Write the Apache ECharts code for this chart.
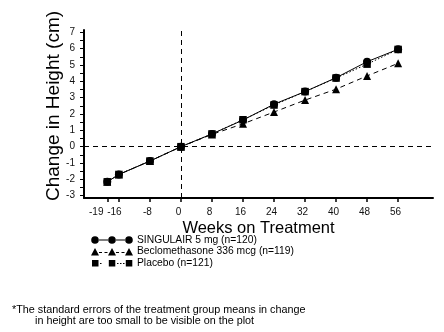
<!DOCTYPE html>
<html>
<head>
<meta charset="utf-8">
<script src="https://cdn.jsdelivr.net/npm/echarts@6/dist/echarts.min.js"></script>
<style>html,body{margin:0;padding:0;background:#fff}#c{width:444px;height:332px}</style>
</head>
<body>
<div id="c"></div>
<script>
const weeks = [-19, -16, -8, 0, 8, 16, 24, 32, 40, 48, 56];
const singulair = [-2.15, -1.7, -0.88, 0, 0.78, 1.63, 2.6, 3.37, 4.22, 5.2, 5.96];
const beclomethasone = [-2.15, -1.7, -0.88, 0, 0.75, 1.4, 2.12, 2.85, 3.52, 4.33, 5.1];
const placebo = [-2.15, -1.7, -0.88, 0, 0.78, 1.65, 2.55, 3.37, 4.2, 5.05, 5.95];
const xTicks = [-19, -16, -8, 0, 8, 16, 24, 32, 40, 48, 56];
const yTicks = [-3, -2, -1, 0, 1, 2, 3, 4, 5, 6, 7];
const yMinorTicks = [-3, -2.5, -2, -1.5, -1, -0.5, 0, 0.5, 1, 1.5, 2, 2.5, 3, 3.5, 4, 4.5, 5, 5.5, 6, 6.5, 7];
const seriesNames = ['SINGULAIR 5 mg (n=120)', 'Beclomethasone 336 mcg (n=119)', 'Placebo (n=121)'];
const footnote = ['*The standard errors of the treatment group means in change', 'in height are too small to be visible on the plot'];

const FONT = "'Liberation Sans', Arial, sans-serif";

function circ(cx, cy, r) {
  return 'M' + (cx - r) + ',' + cy + ' A' + r + ',' + r + ' 0 1,0 ' + (cx + r) + ',' + cy + ' A' + r + ',' + r + ' 0 1,0 ' + (cx - r) + ',' + cy + ' Z ';
}
function rect(x, y, w, h) {
  return 'M' + x + ',' + y + ' L' + (x + w) + ',' + y + ' L' + (x + w) + ',' + (y + h) + ' L' + x + ',' + (y + h) + ' Z ';
}
function tri(cx) {
  return 'M' + (cx - 4) + ',8 L' + cx + ',0.5 L' + (cx + 4) + ',8 Z ';
}
const bounds = 'M0,0 L0,0 Z M42,8 L42,8 Z ';
const iconCircle = 'path://' + bounds + circ(4, 4, 3.8) + circ(21, 4, 3.8) + circ(38, 4, 3.8) + rect(7.5, 3.6, 10, 0.9) + rect(24.5, 3.6, 10, 0.9);
const iconTri = 'path://' + bounds + tri(4) + tri(21) + tri(38) + rect(8, 4.6, 3, 0.9) + rect(13.5, 4.6, 3, 0.9) + rect(25, 4.6, 3, 0.9) + rect(30.5, 4.6, 3, 0.9);
const iconSq = 'path://' + bounds + rect(1, 1, 6.5, 6.5) + rect(17.8, 1, 6.5, 6.5) + rect(34.8, 1, 6.5, 6.5) + rect(9, 4, 1.5, 0.9) + rect(26, 4, 1.5, 0.9) + rect(29, 4, 1.5, 0.9) + rect(32, 4, 1.5, 0.9);

const chart = echarts.init(document.getElementById('c'), null, {renderer: 'canvas'});
chart.setOption({
  animation: false,
  backgroundColor: '#fff',
  grid: {left: 84, right: 11, top: 30, height: 168},
  xAxis: {
    type: 'value', min: -25, max: 65,
    name: 'Weeks on Treatment', nameLocation: 'middle', nameGap: 22, nameMoveOverlap: false,
    nameTextStyle: {fontFamily: FONT, fontSize: 16.5, color: '#000'},
    axisLine: {onZero: false, lineStyle: {color: '#000', width: 2}},
    axisTick: {show: true, length: 4, customValues: xTicks, lineStyle: {color: '#000', width: 1.5}},
    axisLabel: {
      customValues: xTicks, hideOverlap: false, fontFamily: FONT, fontSize: 10, color: '#111', margin: 9,
      formatter: function (v) { return v === -19 ? '{f|' + v + '}' : (v === -16 ? '{s|' + v + '}' : '{n|' + v + '}'); },
      rich: {
        f: {fontFamily: FONT, fontSize: 10, color: '#111', padding: [0, 22, 0, 0]},
        s: {fontFamily: FONT, fontSize: 10, color: '#111', padding: [0, 9, 0, 0]},
        n: {fontFamily: FONT, fontSize: 10, color: '#111', padding: [0, 5, 0, 0]}
      }
    },
    splitLine: {show: false}
  },
  yAxis: {
    type: 'value', min: -3.14, max: 7.14,
    name: 'Change in Height (cm)', nameLocation: 'middle', nameGap: 21, nameMoveOverlap: false,
    nameTextStyle: {fontFamily: FONT, fontSize: 19, color: '#000', padding: [0, 0, 0, 16]},
    axisLine: {onZero: false, lineStyle: {color: '#000', width: 2}},
    axisTick: {show: true, length: 4, customValues: yMinorTicks, lineStyle: {color: '#000', width: 1}},
    axisLabel: {customValues: yTicks, fontFamily: FONT, fontSize: 10, color: '#111', margin: 9},
    splitLine: {show: false}
  },
  legend: {
    orient: 'vertical', left: 86, top: 230, itemWidth: 42, itemHeight: 8, itemGap: 1.5,
    textStyle: {fontFamily: FONT, fontSize: 10.3, color: '#000', padding: [0, 0, 0, -1]},
    data: [
      {name: seriesNames[0], icon: iconCircle},
      {name: seriesNames[1], icon: iconTri},
      {name: seriesNames[2], icon: iconSq}
    ]
  },
  graphic: [
    {type: 'text', left: 12, top: 305, style: {text: footnote[0], font: '10.8px ' + FONT, fill: '#000'}},
    {type: 'text', left: 35, top: 316, style: {text: footnote[1], font: '10.8px ' + FONT, fill: '#000'}}
  ],
  series: [
    {
      name: seriesNames[0], type: 'line', data: weeks.map((w, i) => [w, singulair[i]]),
      symbol: 'circle', symbolSize: 8, color: '#000',
      lineStyle: {color: '#000', width: 1, type: 'solid'}, itemStyle: {color: '#000'},
      markLine: {
        silent: true, symbol: 'none', label: {show: false},
        lineStyle: {color: '#000', width: 1, type: [5, 4]},
        data: [{xAxis: 0}, {yAxis: 0}]
      }, z: 3
    },
    {
      name: seriesNames[1], type: 'line', data: weeks.map((w, i) => [w, beclomethasone[i]]),
      symbol: 'triangle', symbolSize: 8, color: '#000',
      lineStyle: {color: '#000', width: 1, type: [5, 4]}, itemStyle: {color: '#000'}, z: 4
    },
    {
      name: seriesNames[2], type: 'line', data: weeks.map((w, i) => [w, placebo[i]]),
      symbol: 'rect', symbolSize: 7.5, color: '#000',
      lineStyle: {color: '#000', width: 1, type: [1.5, 2]}, itemStyle: {color: '#000'}, z: 5
    }
  ]
});
</script>
</body>
</html>
